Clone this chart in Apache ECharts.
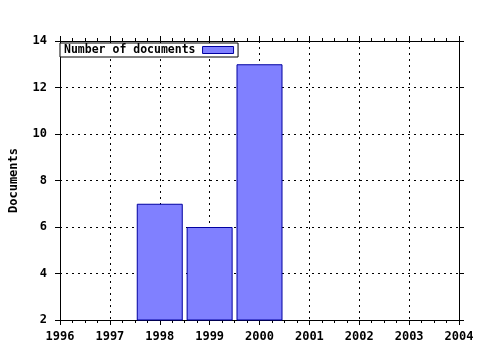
<!DOCTYPE html>
<html><head><meta charset="utf-8">
<script src="https://cdn.jsdelivr.net/npm/echarts@6/dist/echarts.min.js"></script>
<style>html,body{margin:0;padding:0;background:#fff}#c{width:480px;height:350px}</style>
</head><body><div id="c"></div>
<script>
const years = [1998, 1999, 2000];
const documents = [7, 6, 13];
const seriesName = 'Number of documents';
const yAxisTitle = 'Documents';
const xMin = 1996, xMax = 2004, yMin = 2, yMax = 14;

const font = '"DejaVu Sans Mono", monospace';
const chart = echarts.init(document.getElementById('c'), null, {renderer: 'canvas'});
const lbl = {fontFamily: font, fontWeight: 'bold', fontSize: 12, color: '#000'};
chart.setOption({
  animation: false,
  backgroundColor: '#fff',
  grid: {left: 57, right: 21, top: 41, bottom: 30, show: false},
  legend: {
    data: [seriesName], left: 60, top: 43, orient: 'horizontal', align: 'right',
    icon: 'rect', itemWidth: 31, itemHeight: 7, itemGap: 0,
    backgroundColor: '#fff',
    borderColor: '#000', borderWidth: 1, padding: [1, 4, 1, 4],
    textStyle: Object.assign({}, lbl, {fontSize: 11.5, padding: [0, 2, 0, 0]}),
    itemStyle: {borderColor: '#0000a0', borderWidth: 1}
  },
  xAxis: [{
    type: 'value', min: xMin, max: xMax, interval: 1, position: 'bottom',
    axisLine: {lineStyle: {color: '#000', width: 1}},
    axisTick: {length: 5, lineStyle: {color: '#000'}},
    minorTick: {show: true, splitNumber: 4, length: 3, lineStyle: {color: '#000'}},
    axisLabel: Object.assign({}, lbl, {margin: 11, formatter: v => String(v)}),
    splitLine: {show: true, lineStyle: {color: '#000', type: [2, 4], width: 1}}
  }, {
    type: 'value', min: xMin, max: xMax, interval: 1, position: 'top',
    axisLine: {show: true, lineStyle: {color: '#000'}},
    axisTick: {length: 5, lineStyle: {color: '#000'}},
    minorTick: {show: true, splitNumber: 4, length: 3, lineStyle: {color: '#000'}},
    axisLabel: {show: false}, splitLine: {show: false}
  }],
  yAxis: [{
    type: 'value', min: yMin, max: yMax, interval: 2, position: 'left',
    name: yAxisTitle, nameLocation: 'middle', nameGap: 40, nameRotate: 90,
    nameTextStyle: lbl,
    axisLine: {show: true, lineStyle: {color: '#000'}},
    axisTick: {show: true, length: 5, lineStyle: {color: '#000'}},
    axisLabel: Object.assign({}, lbl, {margin: 13}),
    splitLine: {show: true, lineStyle: {color: '#000', type: [2, 4], width: 1}}
  }, {
    type: 'value', min: yMin, max: yMax, interval: 2, position: 'right',
    axisLine: {show: true, lineStyle: {color: '#000'}},
    axisTick: {show: true, length: 5, lineStyle: {color: '#000'}},
    axisLabel: {show: false}, splitLine: {show: false}
  }],
  series: [{
    name: seriesName, type: 'bar', xAxisIndex: 0, yAxisIndex: 0,
    data: years.map((y, i) => [y, documents[i]]),
    barWidth: 46, clip: true,
    itemStyle: {color: '#8080ff', borderColor: '#0000a0', borderWidth: 1}
  }]
});
</script></body></html>
